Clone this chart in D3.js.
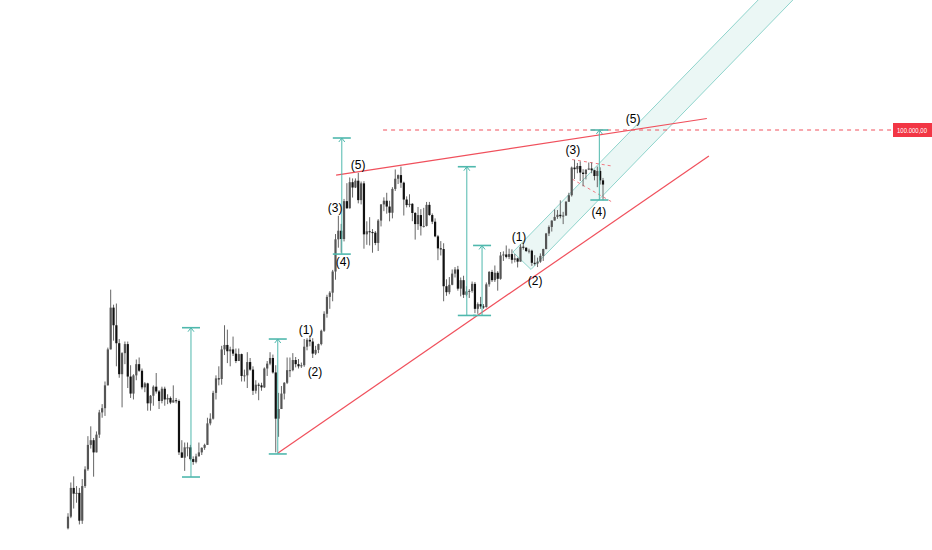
<!DOCTYPE html>
<html>
<head>
<meta charset="utf-8">
<script src="https://cdn.jsdelivr.net/npm/d3@7"></script>
<style>
  body { margin: 0; background: #fff; }
  svg { display: block; }
</style>
</head>
<body>
<div id="chart"></div>
<script>
// bi-weekly candles, first bar 2017-05-15
const firstBar = "2017-05-15";
const firstOpen = 1760;
const closes = [
  1980, 2650, 2500, 2520, 1900, 2700, 3200, 4100, 4300, 3800,
  4550, 5700, 5950, 7500, 10800, 16500, 13800, 11500, 8400, 10400,
  11400, 8200, 6900, 8300, 9300, 8700, 7350, 7650, 6250, 6750,
  7400, 7050, 6400, 7250, 6500, 6600, 6300, 6450, 6400, 3800,
  3600, 4000, 4000, 3550, 3450, 3650, 3800, 3980, 4100, 5100,
  5350, 6950, 8050, 8000, 10800, 11300, 10600, 10800, 10350, 9600,
  10300, 8250, 8300, 9500, 8800, 7100, 7550, 7500, 7350, 8900,
  9350, 9900, 8550, 5350, 5900, 6900, 7700, 8750, 8750, 9700,
  9300, 9100, 9200, 11100, 11900, 11700, 10350, 10750, 11400, 13050,
  15500, 18400, 19200, 23800, 33000, 36000, 33100, 48600, 45200, 58900,
  55800, 59800, 49100, 58200, 34700, 35800, 35500, 35300, 31800, 39900,
  47000, 48800, 46000, 43200, 55000, 61000, 63300, 58600, 49400, 46700,
  47300, 43100, 38500, 42200, 37700, 37800, 46800, 42200, 39450, 34000,
  30100, 29900, 20500, 19300, 20800, 23300, 24300, 20000, 21800, 18800,
  19450, 19550, 21000, 16300, 17100, 16700, 16600, 20900, 23700, 21800,
  23500, 22100, 28000, 28300, 27600, 28400, 26800, 27200, 26300, 30600,
  30300, 29300, 29400, 26000, 25800, 26300, 27900, 29900, 35000, 37400,
  39900, 41400, 42300, 41700, 42000, 48300, 51600, 68300, 67200, 69400,
  64900, 64000, 66900, 67700, 66500, 62700, 66000, 60000, 57500
];
const highs = [
  2050, 2800, 2980, 2700, 2650, 2900, 3300, 4480, 4950, 4400,
  4700, 5850, 6200, 7800, 11000, 19800, 17000, 17200, 12000, 10500,
  11700, 11700, 9200, 8400, 9750, 9950, 8900, 7750, 7700, 6800,
  7500, 8500, 7150, 7400, 7400, 6850, 6700, 7500, 6600, 6500,
  4300, 4200, 4200, 4100, 3650, 3750, 4200, 4000, 4150, 5400,
  5650, 7100, 8300, 9100, 11200, 13800, 13200, 11100, 12300, 10900,
  10900, 10350, 8800, 10500, 9900, 9100, 7900, 7700, 7700, 9000,
  9600, 10500, 10250, 9200, 6950, 7450, 7750, 9950, 9950, 10400,
  10000, 9800, 9450, 12000, 12100, 12450, 12100, 11200, 11450, 13200,
  15900, 18800, 19500, 24200, 34800, 41900, 38600, 49700, 58300, 61800,
  61200, 61200, 64800, 59300, 59500, 39600, 41300, 36600, 35900, 40500,
  47200, 50500, 52900, 48800, 56000, 67000, 63700, 69000, 59200, 51000,
  52100, 47600, 43500, 45800, 44800, 45400, 48200, 48200, 42900, 40800,
  34500, 32400, 31700, 22000, 22500, 24300, 24900, 25200, 22400, 22800,
  20500, 19900, 21500, 21400, 17400, 18400, 17100, 21300, 23900, 24200,
  25300, 23900, 29000, 29200, 31000, 30000, 29800, 28400, 27400, 31400,
  31800, 30400, 30000, 29700, 28100, 27400, 28600, 30000, 35200, 38000,
  40000, 44700, 44400, 49000, 43600, 48600, 52900, 69000, 73800, 71600,
  72700, 67200, 67000, 71900, 71900, 66900, 69000, 68500, 61500
];
const lows = [
  1740, 1950, 2150, 2280, 1830, 1840, 2650, 3150, 3950, 2970,
  3800, 4400, 5400, 5500, 7500, 10800, 11800, 9100, 8100, 6000,
  9300, 7300, 6600, 6500, 7900, 8600, 7200, 7000, 5800, 5800,
  6100, 6900, 5900, 6250, 6100, 6200, 6200, 6300, 6250, 3700,
  3600, 3150, 3650, 3500, 3350, 3400, 3650, 3700, 3900, 4100,
  5000, 5300, 6500, 7500, 7550, 10200, 9400, 9100, 10100, 9400,
  9600, 7800, 7800, 7300, 8700, 6800, 6900, 6450, 7100, 7300,
  8250, 9200, 8450, 3800, 4450, 5900, 6500, 7600, 8150, 8650,
  9000, 8900, 8950, 9050, 10700, 11150, 9900, 10200, 10400, 11250,
  12900, 14900, 16300, 17600, 21900, 30300, 28800, 32300, 45000, 45100,
  50400, 55500, 47500, 47000, 30000, 31200, 31000, 28800, 31100, 29300,
  37600, 43900, 42800, 39600, 40800, 53900, 57800, 55600, 42000, 45600,
  45700, 39650, 32900, 36300, 34300, 37200, 37600, 41900, 38500, 33700,
  26700, 28000, 17600, 18600, 18900, 20700, 22400, 19600, 18500, 18200,
  18500, 18200, 19200, 15600, 15500, 16300, 16300, 16500, 20400, 21400,
  21400, 19600, 21900, 26500, 27200, 27000, 25800, 26100, 24800, 26300,
  29700, 29000, 28600, 25200, 25300, 24900, 26000, 26500, 29800, 34100,
  35700, 39900, 40600, 40800, 38500, 41900, 48300, 50900, 60800, 64500,
  59600, 56500, 60600, 66600, 64500, 60000, 56000, 57500, 49000
];

// drawings, as [date, price]
const supportLine = [["2020-03-13", 3780], ["2026-01-01", 76800]];
const resistanceLine = [["2020-12-24", 63300], ["2025-12-22", 112400]];
const targetPrice = 100000;
const targetStart = "2021-08-12";
const targetText = "100.000,00";
const projections = [
  ["2019-01-10", 2960, 13460],
  ["2020-03-12", 3740, 12000],
  ["2021-01-21", 28400, 92200],
  ["2022-09-28", 15240, 68900],
  ["2022-12-12", 15240, 31000],
  ["2024-07-11", 49160, 100000]
];
const channel = [["2023-05-13", 29000], ["2027-01-01", 485000], ["2027-03-30", 407000], ["2023-08-10", 24300]];
const wedgeTop = [["2024-02-28", 74100], ["2024-09-11", 69400]];
const wedgeBottom = [["2024-02-28", 60800], ["2024-09-11", 48200]];
const waveLabels = [
  ["2020-07-29", 13150, "(1)"],
  ["2020-09-11", 8590, "(2)"],
  ["2020-12-19", 45300, "(3)"],
  ["2021-01-27", 26200, "(4)"],
  ["2021-04-11", 70100, "(5)"],
  ["2023-06-12", 33800, "(1)"],
  ["2023-08-30", 21600, "(2)"],
  ["2024-03-03", 81600, "(3)"],
  ["2024-07-09", 43500, "(4)"],
  ["2024-12-24", 111800, "(5)"]
];

const width = 932, height = 550;
const plotRight = 893;
const parse = d3.timeParse("%Y-%m-%d");

const start = parse(firstBar);
const bars = closes.map((c, i) => ({
  date: d3.timeDay.offset(start, i * 14),
  open: i === 0 ? firstOpen : closes[i - 1],
  high: highs[i],
  low: lows[i],
  close: c
}));

const x = d3.scaleTime()
  .domain([bars[0].date, bars[bars.length - 1].date])
  .range([68, 603]);
const y = d3.scaleLog()
  .domain([1000, 100000])
  .range([584, 130]);

const pt = d => [x(parse(d[0])), y(d[1])];

const svg = d3.select("#chart").append("svg")
  .attr("width", width)
  .attr("height", height)
  .style("background", "#fff");

const teal = "#4fb8ad";
const red = "#f0505c";

// channel (rotated rectangle)
svg.append("path")
  .attr("d", d3.line()(channel.map(pt)) + "Z")
  .attr("fill", "#e6f5f3")
  .attr("fill-opacity", 0.8)
  .attr("stroke", "#8fd4cc")
  .attr("stroke-width", 1);

// trend lines
[supportLine, resistanceLine].forEach(l => {
  svg.append("path")
    .attr("d", d3.line()(l.map(pt)))
    .attr("stroke", red)
    .attr("stroke-width", 1.2)
    .attr("fill", "none");
});

// 100k level
svg.append("line")
  .attr("x1", x(parse(targetStart)))
  .attr("x2", plotRight)
  .attr("y1", y(targetPrice))
  .attr("y2", y(targetPrice))
  .attr("stroke", red)
  .attr("stroke-width", 1)
  .attr("stroke-dasharray", "4,4");

// small wedge
[wedgeTop, wedgeBottom].forEach(l => {
  svg.append("path")
    .attr("d", d3.line()(l.map(pt)))
    .attr("stroke", "#f27a83")
    .attr("stroke-width", 1)
    .attr("stroke-dasharray", "3,3")
    .attr("fill", "none");
});

// candles
const g = svg.append("g");
bars.forEach(b => {
  const cx = x(b.date);
  const col = b.close >= b.open ? "#555" : "#111";
  g.append("line")
    .attr("x1", cx).attr("x2", cx)
    .attr("y1", y(b.high)).attr("y2", y(b.low))
    .attr("stroke", "#666")
    .attr("stroke-width", 1);
  const top = y(Math.max(b.open, b.close));
  const bot = y(Math.min(b.open, b.close));
  g.append("rect")
    .attr("x", cx - 1.1)
    .attr("y", top)
    .attr("width", 2.2)
    .attr("height", Math.max(1, bot - top))
    .attr("fill", col);
});

// projections
const cap = 9;
projections.forEach(p => {
  const px = x(parse(p[0]));
  const yb = y(p[1]), yt = y(p[2]);
  svg.append("line")
    .attr("x1", px).attr("x2", px).attr("y1", yb).attr("y2", yt)
    .attr("stroke", teal).attr("stroke-width", 1);
  svg.append("line")
    .attr("x1", px - cap).attr("x2", px + cap).attr("y1", yb).attr("y2", yb)
    .attr("stroke", teal).attr("stroke-width", 1.6);
  svg.append("line")
    .attr("x1", px - cap).attr("x2", px + cap).attr("y1", yt).attr("y2", yt)
    .attr("stroke", teal).attr("stroke-width", 1.6);
  svg.append("path")
    .attr("d", `M${px - 3},${yt + 4}L${px},${yt}L${px + 3},${yt + 4}`)
    .attr("stroke", teal).attr("fill", "none").attr("stroke-width", 1);
});

// wave labels
svg.append("g")
  .selectAll("text")
  .data(waveLabels)
  .join("text")
  .attr("x", d => x(parse(d[0])))
  .attr("y", d => y(d[1]))
  .attr("dy", "0.35em")
  .attr("text-anchor", "middle")
  .attr("font-family", "Liberation Sans, Arial, sans-serif")
  .attr("font-size", 12)
  .attr("fill", "#000")
  .text(d => d[2]);

// price label on the right
svg.append("rect")
  .attr("x", plotRight)
  .attr("y", y(targetPrice) - 7)
  .attr("width", width - plotRight)
  .attr("height", 14)
  .attr("fill", "#f23645");
svg.append("text")
  .attr("x", plotRight + 4)
  .attr("y", y(targetPrice))
  .attr("dy", "0.35em")
  .attr("font-family", "Liberation Sans, Arial, sans-serif")
  .attr("font-size", 7.5)
  .attr("textLength", 30)
  .attr("lengthAdjust", "spacingAndGlyphs")
  .attr("fill", "#fff")
  .text(targetText);
</script>
</body>
</html>
